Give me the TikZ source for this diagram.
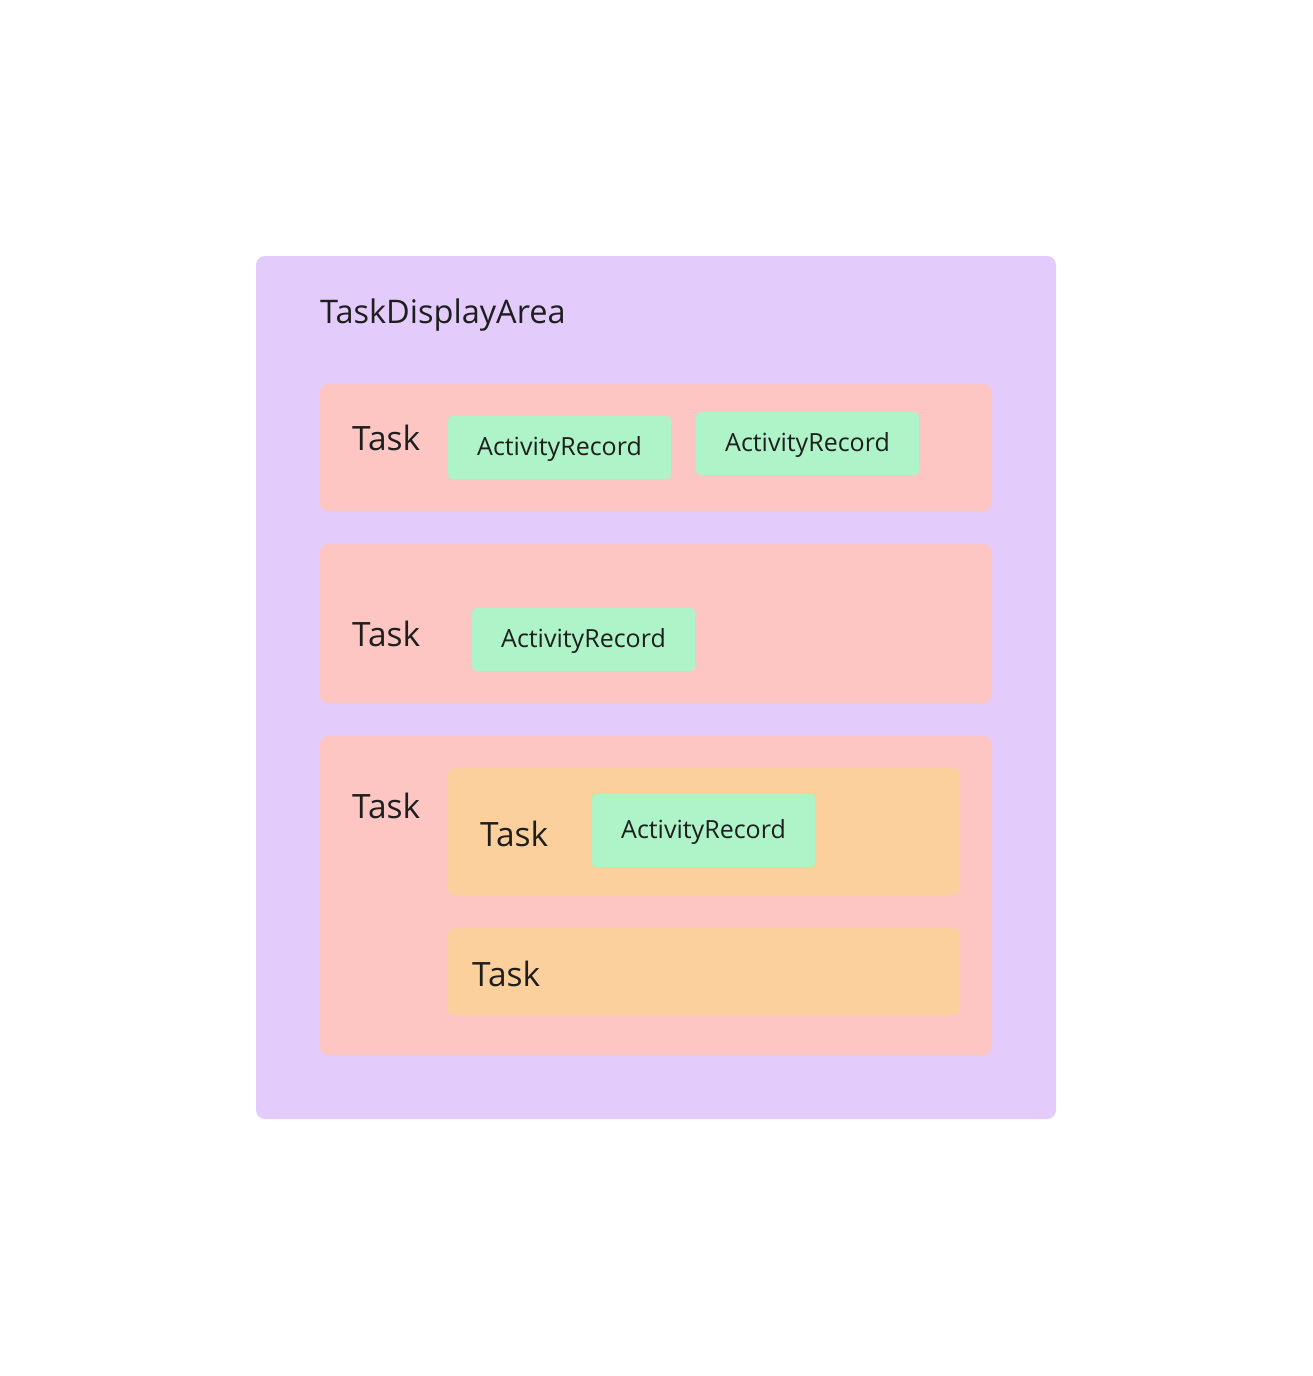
\documentclass[tikz,border=0pt]{standalone}
\usepackage{fontspec}
\setmainfont{Open Sans}
\definecolor{areacol}{HTML}{E3CBFC}
\definecolor{taskcol}{HTML}{FDC6C3}
\definecolor{subcol}{HTML}{FBD09C}
\definecolor{arcol}{HTML}{AEF4C8}
\definecolor{txt}{HTML}{1E1E1E}
\begin{document}
\begin{tikzpicture}[x=1pt,y=-1pt,
  box/.style={inner sep=0pt, outer sep=0pt, anchor=north west},
  areabox/.style={box, fill=areacol, rounded corners=9pt},
  taskbox/.style={box, fill=taskcol, rounded corners=8pt},
  subbox/.style={box, fill=subcol, rounded corners=7pt},
  arbox/.style={box, fill=arcol, rounded corners=4pt, font=\fontsize{25}{30}\selectfont, text=txt},
  lbl/.style={anchor=west, inner sep=0pt, text=txt, font=\fontsize{33.5}{38}\selectfont},
  titlelbl/.style={lbl, font=\fontsize{32.5}{38}\selectfont},
]
\useasboundingbox (0,0) rectangle (1312,1376);
\fill[white] (0,0) rectangle (1312,1376);
% outer area
\node[areabox, minimum width=800pt, minimum height=863pt] (area) at (256,256) {};
\node[titlelbl] (arealbl) at (320,315) {TaskDisplayArea};
% task 1
\node[taskbox, minimum width=672pt, minimum height=127pt] (t1) at (320,384) {};
\node[lbl] (t1lbl) at (352,438) {Task};
\node[arbox, minimum width=223pt, minimum height=63pt] (a1) at (448,416) {};
\node[arbox, anchor=center, inner sep=0pt] (a1t) at ([yshift=-1.5pt]a1.center) {ActivityRecord};
\node[arbox, minimum width=223pt, minimum height=63pt] (a2) at (696,412) {};
\node[arbox, anchor=center, inner sep=0pt] (a2t) at ([yshift=-1.5pt]a2.center) {ActivityRecord};
% task 2
\node[taskbox, minimum width=672pt, minimum height=159pt] (t2) at (320,544) {};
\node[lbl] (t2lbl) at (352,634) {Task};
\node[arbox, minimum width=223pt, minimum height=63pt] (a3) at (472,608) {};
\node[arbox, anchor=center, inner sep=0pt] (a3t) at ([yshift=-1.5pt]a3.center) {ActivityRecord};
% task 3
\node[taskbox, minimum width=672pt, minimum height=319pt] (t3) at (320,736) {};
\node[lbl] (t3lbl) at (352,806) {Task};
\node[subbox, minimum width=512pt, minimum height=127pt] (s1) at (448,768) {};
\node[lbl] (s1lbl) at (480,834) {Task};
\node[arbox, minimum width=223pt, minimum height=73pt] (a4) at (592,794) {};
\node[arbox, anchor=center, inner sep=0pt] (a4t) at ([yshift=-1.5pt]a4.center) {ActivityRecord};
\node[subbox, minimum width=512pt, minimum height=87pt] (s2) at (448,928) {};
\node[lbl] (s2lbl) at (472,974) {Task};
\end{tikzpicture}
\end{document}
